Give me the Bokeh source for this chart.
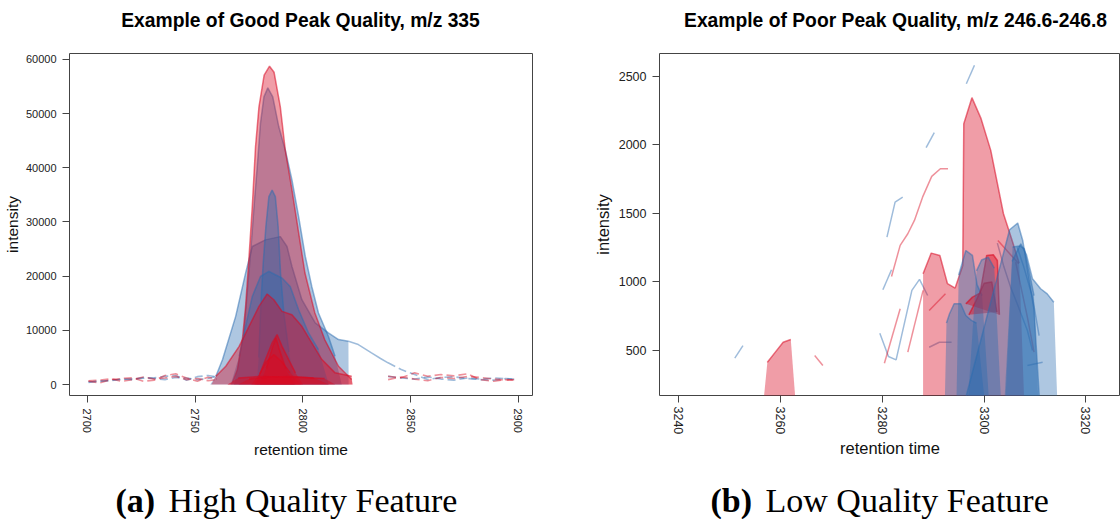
from bokeh.plotting import figure
from bokeh.models import Range1d, FixedTicker, Label
from bokeh.layouts import row, column
from bokeh.embed import file_html
from bokeh.resources import INLINE

RED = "#D90A22"
BLUE = "#2A6BB0"
FONT = "Liberation Sans"

# ---------------- (a) good peak, m/z 335 ----------------
good_title = "Example of Good Peak Quality, m/z 335"
good_caption = ("(a)", "High Quality Feature")
good_xticks = [2700, 2750, 2800, 2850, 2900]
good_yticks = [0, 10000, 20000, 30000, 40000, 50000, 60000]

# filled chromatogram peaks (retention time, intensity)
gA_x = [2765.0, 2767.3, 2769.6, 2771.9, 2773.4, 2775.0, 2776.5, 2778.0, 2779.6, 2782.0, 2784.5, 2786.6,
        2789.5, 2791.8, 2794.9, 2798.0, 2800.9, 2805.5, 2810.1, 2816.5, 2822.6, 2823.0]
gA_y = [0, 370, 2760, 8290, 14420, 23630, 32840, 43890, 51250, 57090, 58750, 57640,
        51250, 43280, 35910, 27990, 20630, 13260, 8290, 3370, 920, 0]
gB_x = [2768.0, 2772.5, 2775.7, 2777.3, 2778.8, 2780.3, 2781.9, 2783.7, 2786.0, 2788.8, 2791.8,
        2794.9, 2798.0, 2801.1, 2804.1, 2807.2, 2811.8, 2814.9, 2818.0]
gB_y = [0, 9000, 24250, 32840, 40200, 48200, 53090, 54750, 53090, 47570, 43280,
        37750, 31000, 23630, 18100, 13200, 8900, 5200, 0]
gC_x = [2778.5, 2779.5, 2780.5, 2781.5, 2782.8, 2784.2, 2785.7, 2787.2, 2788.5, 2789.6, 2791.2, 2793.5, 2796.5]
gC_y = [0, 5000, 15000, 22000, 29150, 34680, 35910, 34680, 29150, 20570, 13000, 6000, 0]
gD_x = [2757.0, 2759.6, 2762.7, 2768.8, 2773.4, 2776.5, 2782.6, 2789.5, 2792.6, 2794.9, 2799.5,
        2805.7, 2811.8, 2816.5, 2821.1, 2821.2]
gD_y = [0, 1530, 4600, 12580, 20570, 25470, 26700, 27300, 25470, 21790, 15650,
        11360, 9520, 8290, 7980, 0]
gE_x = [2766.5, 2770.4, 2773.4, 2776.5, 2780.3, 2784.2, 2787.0, 2790.3, 2794.1, 2798.0, 2802.6, 2807.2, 2812.0]
gE_y = [0, 5200, 10740, 16260, 19950, 20870, 20300, 19650, 18100, 13810, 9520, 6450, 0]
gF_x = [2757.5, 2759.6, 2764.2, 2770.4, 2775.0, 2779.6, 2783.4, 2786.5, 2790.3, 2794.9, 2799.5,
        2804.1, 2808.8, 2814.9, 2822.6, 2823.0]
gF_y = [0, 1530, 3370, 7050, 10740, 14420, 16700, 15650, 13500, 12890, 10740,
        7680, 4600, 2150, 1530, 0]
gG1_x = [2777.5, 2779.6, 2782.6, 2785.7, 2788.0, 2790.3, 2793.4, 2796.5, 2800.0]
gG1_y = [0, 1530, 4600, 7680, 9200, 7050, 4600, 2150, 0]
gG2_x = [2776.0, 2780.0, 2783.0, 2786.5, 2790.0, 2794.0, 2799.0]
gG2_y = [0, 2000, 4200, 5520, 4300, 2200, 0]
gG3_x = [2780.0, 2783.0, 2786.0, 2787.5, 2789.0, 2792.0, 2796.0]
gG3_y = [0, 3000, 7000, 8600, 6500, 3000, 0]
gH1_x = [2765.0, 2770.0, 2780.0, 2790.0, 2800.0, 2810.0, 2815.0]
gH1_y = [0, 1200, 1500, 1400, 1300, 1100, 0]
gH2_x = [2770.0, 2775.0, 2785.0, 2795.0, 2805.0, 2812.0]
gH2_y = [0, 1000, 1400, 1500, 1200, 0]

# trailing chromatogram of the wide blue peak
gD_tail_x = [2821.1, 2825.7, 2831.8, 2836.0, 2839.5]
gD_tail_y = [7980, 7370, 5830, 4800, 4000]

# baseline (outside peak bounds) chromatogram traces, drawn dashed
gN_left_x = [2700.5, 2705.8, 2711.0, 2716.0, 2721.0, 2726.0, 2731.0, 2736.0, 2741.0, 2746.0, 2751.0, 2756.0, 2760.0]
gN_blue1_y = [500, 560, 800, 950, 1050, 1150, 1230, 1500, 1660, 800, 1450, 1660, 1400]
gN_blue2_y = [400, 650, 700, 1000, 900, 1300, 1100, 900, 1300, 1200, 900, 1100, 1500]
gN_red1_y = [600, 300, 900, 1100, 1230, 610, 800, 1660, 1970, 1200, 610, 1350, 1000]
gN_red2_y = [700, 800, 1050, 600, 900, 1400, 1000, 1200, 1500, 900, 1100, 700, 900]
gN_right_x = [2839.5, 2845.6, 2851.8, 2857.9, 2864.0, 2870.0, 2876.4, 2882.0, 2888.6, 2894.0, 2898.0]
gN_blue3_y = [4000, 2760, 1840, 920, 1300, 1420, 1100, 900, 800, 1100, 1000]
gN_blue4_y = [1500, 1200, 1000, 1400, 1000, 800, 1200, 1000, 1200, 1100, 950]
gN_red3_y = [1530, 1230, 2150, 1530, 1840, 1600, 1970, 920, 610, 900, 800]
gN_red4_y = [900, 1400, 1000, 700, 1300, 1100, 1500, 1300, 1000, 800, 900]

# ---------------- (b) poor peak, m/z 246.6-246.8 ----------------
poor_title = "Example of Poor Peak Quality, m/z 246.6-246.8"
poor_caption = ("(b)", "Low Quality Feature")
poor_xticks = [3240, 3260, 3280, 3300, 3320]
poor_yticks = [500, 1000, 1500, 2000, 2500]

pR1_x = [3256.3, 3257.4, 3259.0, 3260.5, 3262.0, 3263.2]
pR1_y = [0, 415, 490, 560, 580, 0]
pR2_x = [3288.0, 3288.0, 3289.6, 3291.3, 3292.8, 3294.3, 3295.8, 3296.0, 3297.6, 3299.4, 3301.3,
         3303.8, 3305.3, 3306.9, 3308.0]
pR2_y = [0, 1059, 1210, 1193, 987, 955, 1120, 2153, 2343, 2190, 1959, 1497, 1326, 1137, 0]
pR3_x = [3296.4, 3297.7, 3299.2, 3300.5, 3301.8, 3302.6, 3303.0]
pR3_y = [840, 889, 918, 1193, 1198, 1156, 760]
pR4_x = [3297.0, 3298.5, 3300.0, 3301.5, 3302.5]
pR4_y = [760, 870, 990, 1000, 780]
pB1_x = [3292.2, 3292.6, 3293.2, 3294.1, 3295.4, 3296.4, 3297.5, 3298.5, 3300.5]
pB1_y = [0, 700, 768, 841, 841, 755, 720, 700, 0]
pB2_x = [3294.5, 3295.0, 3296.4, 3297.7, 3298.6, 3299.6, 3301.2]
pB2_y = [0, 1050, 1229, 1193, 980, 900, 0]
pB6_x = [3296.6, 3298.5, 3299.5, 3300.8, 3302.0, 3303.5]
pB6_y = [0, 1080, 1160, 1180, 1100, 0]
pB3_x = [3296.0, 3305.0, 3306.6, 3307.6, 3308.7, 3309.8, 3311.1]
pB3_y = [100, 1380, 1429, 1300, 1050, 800, 0]
pB4_x = [3303.8, 3305.6, 3307.0, 3307.9, 3309.0, 3309.8, 3310.8]
pB4_y = [0, 1254, 1262, 1242, 1050, 900, 0]
pB5_x = [3304.0, 3305.5, 3307.2, 3308.3, 3309.5, 3311.1, 3312.4, 3313.7, 3314.5]
pB5_y = [0, 1150, 1278, 1200, 1023, 950, 913, 852, 0]

# thin chromatogram fragments outside peak bounds
pL_red = [
    ([3266.7, 3268.3], [463, 390]),
    ([3280.4, 3283.5], [407, 804]),
    ([3281.8, 3283.5, 3285.0, 3286.3, 3287.9, 3289.7, 3291.4, 3292.9], [1040, 1266, 1351, 1448, 1618, 1769, 1825, 1825]),
    ([3285.0, 3288.0], [488, 938]),
    ([3289.2, 3292.4], [792, 913]),
    ([3302.7, 3306.8], [1302, 1132]),
    ([3306.2, 3308.5, 3309.8], [1144, 743, 488]),
]
pL_blue = [
    ([3251.0, 3252.6], [444, 536]),
    ([3288.6, 3290.2], [1979, 2088]),
    ([3296.5, 3298.1], [2445, 2579]),
    ([3280.9, 3282.5, 3284.0], [1326, 1582, 1618]),
    ([3280.1, 3281.8], [943, 1089]),
    ([3279.5, 3281.2, 3282.7, 3285.8, 3287.3, 3288.9], [626, 456, 432, 938, 1018, 901]),
    ([3302.6, 3303.9, 3305.2, 3306.5, 3308.5, 3309.5], [1283, 1108, 962, 841, 646, 500]),
    ([3306.5, 3307.8, 3309.5, 3310.8], [1253, 1108, 889, 609]),
    ([3308.5, 3311.5], [391, 415]),
    ([3289.2, 3291.2, 3293.6], [524, 560, 560]),
]

W1, W2 = 590, 530          # panel widths
H_TOP, H_MAIN, H_CAP = 40, 430, 49


def style(p, tick_size, label_size):
    p.outline_line_color = "#444444"
    p.outline_line_width = 1
    p.xgrid.visible = False
    p.ygrid.visible = False
    p.background_fill_color = "white"
    p.border_fill_color = "white"
    for ax in (p.xaxis[0], p.yaxis[0]):
        ax.axis_line_color = None
        ax.major_tick_line_color = "#444444"
        ax.major_tick_in = 0
        ax.major_tick_out = 7
        ax.minor_tick_line_color = None
        ax.major_label_text_font = FONT
        ax.major_label_text_font_size = tick_size
        ax.major_label_text_color = "#222222"
        ax.axis_label_text_font = FONT
        ax.axis_label_text_font_style = "normal"
        ax.axis_label_text_font_size = label_size
        ax.axis_label_text_color = "#111111"
    p.xaxis.major_label_orientation = "vertical"


def fill_peak(p, xs, ys, color, fa=0.4, la=0.55, top_only=True):
    p.patch(xs, ys, fill_color=color, fill_alpha=fa, line_color=None)
    if top_only:
        p.line(xs[1:-1], ys[1:-1], line_color=color, line_alpha=la, line_width=1.5)
    else:
        p.line(xs, ys, line_color=color, line_alpha=la, line_width=1.5)


def strip(w, h):
    s = figure(width=w, height=h, output_backend="svg", toolbar_location=None,
               x_range=Range1d(0, w), y_range=Range1d(0, h), x_axis_type=None, y_axis_type=None,
               min_border=0, min_border_left=0, min_border_right=0, min_border_top=0, min_border_bottom=0)
    s.outline_line_color = None
    s.xgrid.visible = False
    s.ygrid.visible = False
    return s


def add_text(p, x, y, text, size, font, style="normal", align="center", baseline="middle"):
    p.add_layout(Label(x=x, y=y, text=text, text_font=font, text_font_size=size,
                       text_font_style=style, text_align=align, text_baseline=baseline,
                       text_color="#000000"))


# ---------- figure (a) ----------
p1 = figure(width=W1, height=H_MAIN, output_backend="svg", toolbar_location=None,
            x_range=Range1d(2691.7, 2906.5), y_range=Range1d(-2030, 61100),
            min_border_left=66, min_border_right=58, min_border_top=13, min_border_bottom=74)
style(p1, "11px", "15.5px")
p1.xaxis.ticker = FixedTicker(ticks=good_xticks)
p1.yaxis.ticker = FixedTicker(ticks=good_yticks)
p1.xaxis.axis_label = "retention time"
p1.yaxis.axis_label = "intensity"
p1.xaxis.major_label_standoff = 6
p1.xaxis.axis_label_standoff = 5
p1.yaxis.major_label_standoff = 6
p1.yaxis.axis_label_standoff = 2

for xs, ys in [(gN_left_x, gN_blue1_y), (gN_left_x, gN_blue2_y), (gN_right_x, gN_blue3_y), (gN_right_x, gN_blue4_y)]:
    p1.line(xs, ys, line_color=BLUE, line_alpha=0.45, line_width=1.6, line_dash="8 4")
for xs, ys in [(gN_left_x, gN_red1_y), (gN_left_x, gN_red2_y), (gN_right_x, gN_red3_y), (gN_right_x, gN_red4_y)]:
    p1.line(xs, ys, line_color=RED, line_alpha=0.45, line_width=1.6, line_dash="8 4")

fill_peak(p1, gD_x, gD_y, BLUE, 0.38, 0.5)
p1.line(gD_tail_x, gD_tail_y, line_color=BLUE, line_alpha=0.45, line_width=1.5)
fill_peak(p1, gB_x, gB_y, BLUE, 0.4, 0.5)
fill_peak(p1, gA_x, gA_y, RED)
fill_peak(p1, gC_x, gC_y, BLUE, 0.4, 0.5)
fill_peak(p1, gE_x, gE_y, BLUE, 0.4, 0.5)
fill_peak(p1, gF_x, gF_y, RED)
for xs, ys in [(gG1_x, gG1_y), (gG2_x, gG2_y), (gG3_x, gG3_y), (gH1_x, gH1_y), (gH2_x, gH2_y)]:
    fill_peak(p1, xs, ys, RED, 0.45, 0.6)

# ---------- figure (b) ----------
p2 = figure(width=W2, height=H_MAIN, output_backend="svg", toolbar_location=None,
            x_range=Range1d(3236.2, 3326.8), y_range=Range1d(172, 2665),
            min_border_left=68, min_border_right=0, min_border_top=13, min_border_bottom=75)
style(p2, "12.5px", "16.5px")
p2.xaxis.ticker = FixedTicker(ticks=poor_xticks)
p2.yaxis.ticker = FixedTicker(ticks=poor_yticks)
p2.xaxis.axis_label = "retention time"
p2.yaxis.axis_label = "intensity"
p2.xaxis.major_label_standoff = 4
p2.xaxis.axis_label_standoff = 2
p2.yaxis.major_label_standoff = 6
p2.yaxis.axis_label_standoff = 4

for xs, ys in pL_blue:
    p2.line(xs, ys, line_color=BLUE, line_alpha=0.45, line_width=1.5)
for xs, ys in pL_red:
    p2.line(xs, ys, line_color=RED, line_alpha=0.45, line_width=1.5)

fill_peak(p2, pR1_x, pR1_y, RED)
fill_peak(p2, pR2_x, pR2_y, RED)
fill_peak(p2, pB1_x, pB1_y, BLUE, 0.4, 0.5)
fill_peak(p2, pB2_x, pB2_y, BLUE, 0.4, 0.5)
fill_peak(p2, pR3_x, pR3_y, RED, 0.45, 0.6, top_only=False)
fill_peak(p2, pR4_x, pR4_y, RED, 0.45, 0.6, top_only=False)
fill_peak(p2, pB6_x, pB6_y, BLUE, 0.4, 0.5)
fill_peak(p2, pB3_x, pB3_y, BLUE, 0.4, 0.5, top_only=False)
fill_peak(p2, pB4_x, pB4_y, BLUE, 0.4, 0.5)
fill_peak(p2, pB5_x, pB5_y, BLUE, 0.38, 0.5)

# ---------- title strips and caption strips ----------
t1 = strip(W1, H_TOP)
t2 = strip(W2, H_TOP)
add_text(t1, 300, 20, good_title, "19.3px", FONT, "bold")
add_text(t2, 305, 20, poor_title, "19.3px", FONT, "bold")

c1 = strip(W1, H_CAP)
c2 = strip(W2, H_CAP)
add_text(c1, 115, 19, good_caption[0], "34px", "Liberation Serif", "bold", "left", "middle")
add_text(c1, 168, 19, good_caption[1], "34px", "Liberation Serif", "normal", "left", "middle")
add_text(c2, 120, 19, poor_caption[0], "34px", "Liberation Serif", "bold", "left", "middle")
add_text(c2, 175, 19, poor_caption[1], "34px", "Liberation Serif", "normal", "left", "middle")

layout = column(row(t1, t2, spacing=0), row(p1, p2, spacing=0), row(c1, c2, spacing=0), spacing=0)
open("out.html", "w").write(file_html(layout, INLINE))
